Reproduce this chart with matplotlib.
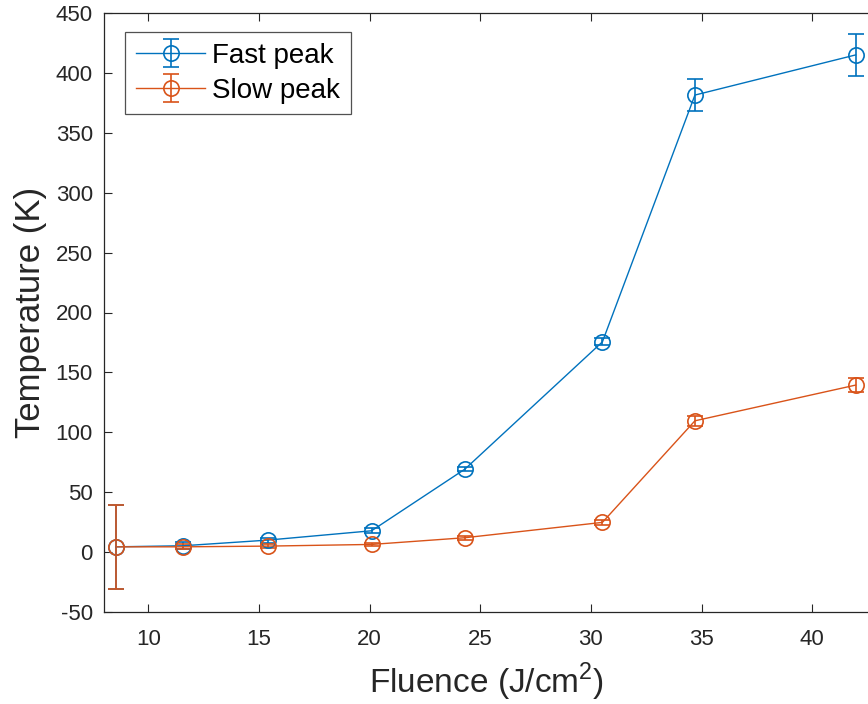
import matplotlib
matplotlib.use("Agg")
import matplotlib.pyplot as plt

# Fluence values (J/cm^2)
fluence = [8.54, 11.58, 15.39, 20.09, 24.31, 30.52, 34.70, 41.96]

# Fast peak temperature and uncertainty (K)
fast_temp = [4.4, 5.3, 10.0, 17.8, 69.3, 175.5, 381.5, 415.0]
fast_err = [35.0, 3.0, 2.0, 2.0, 2.0, 3.0, 13.0, 17.5]

# Slow peak temperature and uncertainty (K)
slow_temp = [4.4, 4.4, 5.0, 6.4, 12.0, 24.8, 109.6, 139.4]
slow_err = [35.0, 2.0, 1.5, 1.5, 1.5, 2.0, 4.0, 6.0]

x_ticks = [10, 15, 20, 25, 30, 35, 40]
y_ticks = [-50, 0, 50, 100, 150, 200, 250, 300, 350, 400, 450]

BLUE = "#0072BD"
ORANGE = "#D95319"
AXIS_COLOR = "#262626"

plt.rcParams["font.family"] = ["Liberation Sans", "DejaVu Sans"]
plt.rcParams["axes.unicode_minus"] = False
plt.rcParams["mathtext.fontset"] = "custom"
plt.rcParams["mathtext.rm"] = "Liberation Sans"

fig = plt.figure(figsize=(8.68, 7.04), dpi=100)
ax = fig.add_axes([104 / 868, 92 / 704, (868 - 104) / 868, (612 - 13) / 704])

common = dict(marker="o", markersize=11, markerfacecolor="none",
              markeredgewidth=1.2, linewidth=1.0, elinewidth=1.2,
              capsize=6, capthick=1.2)
ax.errorbar(fluence, fast_temp, yerr=fast_err, color=BLUE,
            label="Fast peak", **common)
ax.errorbar(fluence, slow_temp, yerr=slow_err, color=ORANGE,
            label="Slow peak", **common)

ax.set_xlim(8.0, 42.52)
ax.set_ylim(-50, 450)
ax.set_xticks(x_ticks)
ax.set_yticks(y_ticks)

ax.tick_params(axis="both", which="major", direction="in", length=6,
               width=0.8, colors=AXIS_COLOR, labelsize=16,
               top=True, right=False, labelcolor="#262626")
ax.tick_params(axis="x", pad=12)
ax.tick_params(axis="y", pad=8)
for side in ["left", "bottom", "top"]:
    ax.spines[side].set_color(AXIS_COLOR)
    ax.spines[side].set_linewidth(0.9)
ax.spines["right"].set_visible(False)

ax.set_xlabel("Fluence (J/cm$^2$)", fontsize=24, color="#262626", labelpad=8)
ax.set_ylabel("Temperature (K)", fontsize=25, color="#262626", labelpad=6)

leg = ax.legend(loc="upper left", bbox_to_anchor=(0.028, 0.968),
                fontsize=20, frameon=True, fancybox=False,
                borderpad=0.38, handlelength=2.5, handletextpad=0.25,
                labelspacing=0.32, borderaxespad=0.0)
leg.get_frame().set_edgecolor(AXIS_COLOR)
leg.get_frame().set_linewidth(0.9)
for text in leg.get_texts():
    text.set_color("black")

fig.savefig("out.png", dpi=100)
